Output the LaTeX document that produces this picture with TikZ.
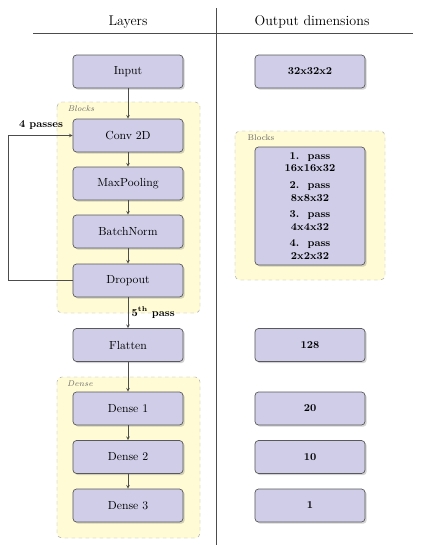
\documentclass[tikz,border=0pt]{standalone}
\usepackage{amsmath}
\usetikzlibrary{shadows}

\begin{document}
\begin{tikzpicture}[x=0.03cm,y=-0.03cm]
  % Colors
  \definecolor{layercolor}{RGB}{207,205,232}
  \definecolor{blockcolor}{RGB}{255,251,212}
  \colorlet{linecolor}{black!70}
  \colorlet{framecolor}{black!35}

  % Styles
  \tikzstyle{layerbox}=[draw=black!65,line width=0.6pt,fill=layercolor,rounded corners=3pt,
    minimum width=3.3cm,minimum height=0.99cm,
    drop shadow={opacity=0.35,shadow xshift=0.5mm,shadow yshift=-0.5mm}]
  \tikzstyle{dimbox}=[layerbox,font=\small\bfseries]
  \tikzstyle{groupbox}=[draw=framecolor,dashed,fill=blockcolor,rounded corners=4pt]
  \tikzstyle{grouptitle}=[font=\scriptsize\itshape,text=black!60]
  \tikzstyle{flow}=[draw=linecolor,-stealth]

  \useasboundingbox (0,0) rectangle (421,550);

  % Header
  \node[font=\large] (hlayers) at (128,22) {Layers};
  \node[font=\large] (hdims) at (312,22) {Output dimensions};
  \draw[linecolor] (33,33) -- (413,33);
  \draw[linecolor,semithick] (216,8) -- (216,545);

  % Groups
  \draw[groupbox] (57,102) rectangle (200,313);
  \node[grouptitle] (tblocks) at (81,109) {Blocks};
  \draw[groupbox] (57,377) rectangle (200,538);
  \node[grouptitle] (tdense) at (80,384) {Dense};
  \draw[groupbox] (235,131) rectangle (385,280);
  \node[grouptitle,font=\scriptsize] (tpasses) at (261,138) {Blocks};

  % Layers
  \node[layerbox] (input) at (128,71.5) {Input};
  \node[layerbox] (conv) at (128,135.5) {Conv 2D};
  \node[layerbox] (pool) at (128,183.5) {MaxPooling};
  \node[layerbox] (norm) at (128,231.5) {BatchNorm};
  \node[layerbox] (drop) at (128,280.5) {Dropout};
  \node[layerbox] (flat) at (128,345) {Flatten};
  \node[layerbox] (dense1) at (128,408.5) {Dense 1};
  \node[layerbox] (dense2) at (128,457) {Dense 2};
  \node[layerbox] (dense3) at (128,505.5) {Dense 3};

  % Output dimensions
  \node[dimbox] (dinput) at (310,71.5) {32x32x2};
  \node[dimbox,minimum height=3.54cm,align=center] (dpasses) at (310,206)
    {1.\ \ pass\\16x16x32\\[3pt]2.\ \ pass\\8x8x32\\[3pt]3.\ \ pass\\4x4x32\\[3pt]4.\ \ pass\\2x2x32};
  \node[dimbox] (dflat) at (310,345) {128};
  \node[dimbox] (ddense1) at (310,408.5) {20};
  \node[dimbox] (ddense2) at (310,457) {10};
  \node[dimbox] (ddense3) at (310,505.5) {1};

  % Connections
  \draw[flow] (input) -- (conv);
  \draw[flow] (conv) -- (pool);
  \draw[flow] (pool) -- (norm);
  \draw[flow] (norm) -- (drop);
  \draw[flow] (drop) -- node[right,font=\small\bfseries,inner sep=3pt] {5\textsuperscript{th} pass} (flat);
  \draw[flow] (flat) -- (dense1);
  \draw[flow] (dense1) -- (dense2);
  \draw[flow] (dense2) -- (dense3);
  \draw[flow] (drop.west) -- ++(-64,0) |- (conv.west);
  \node[font=\small\bfseries] (tloop) at (41,125) {4 passes};
\end{tikzpicture}
\end{document}
